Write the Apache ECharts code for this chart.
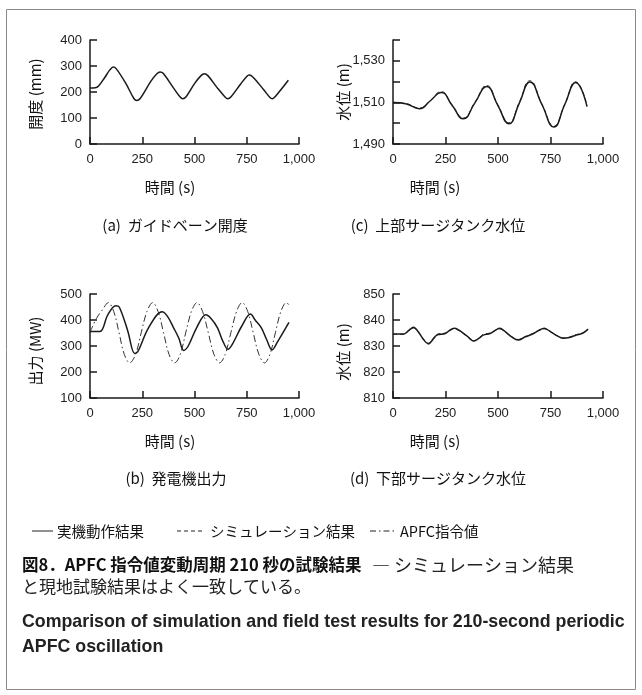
<!DOCTYPE html>
<html>
<head>
<meta charset="utf-8">
<script src="https://cdn.jsdelivr.net/npm/echarts@6/dist/echarts.min.js"></script>
<style>
  html, body { margin: 0; padding: 0; background: #fff; }
  #chart { width: 642px; height: 695px; }
</style>
</head>
<body>
<div id="chart"></div>
<script>
// (a) ガイドベーン開度 - 実機
const gvTime = [0, 25, 40, 70, 95, 111, 125, 170, 210, 223, 240, 290, 320, 335, 350, 400, 430, 443, 460, 500, 530, 547, 565, 610, 645, 659, 675, 720, 750, 762, 780, 830, 860, 872, 890, 949]
const gvActual = [215, 216, 222, 255, 285, 296, 290, 235, 175, 167, 175, 240, 270, 277, 272, 215, 182, 174, 182, 232, 262, 270, 262, 215, 182, 174, 182, 230, 260, 265, 257, 210, 180, 174, 186, 245]

// (b) 発電機出力 - 実機 / APFC指令値
const pwTime = [0, 48, 85, 123, 140, 180, 214, 230, 280, 345, 370, 400, 425, 448, 470, 510, 554, 580, 610, 635, 660, 680, 725, 768, 790, 820, 845, 871, 900, 952]
const pwActual = [356, 356, 420, 455, 450, 360, 271, 280, 370, 432, 415, 370, 330, 283, 300, 370, 420, 405, 370, 320, 287, 305, 375, 423, 400, 370, 325, 285, 320, 391]
const apfcTime = [0, 30, 60, 88, 114, 139, 164, 190, 218, 245, 272, 300, 326, 352, 378, 405, 432, 458, 485, 512, 539, 566, 593, 620, 647, 674, 701, 728, 755, 781, 808, 835, 861, 887, 913, 940, 952]
const apfcValue = [352, 405, 440, 467, 432, 351, 268, 235, 268, 351, 432, 467, 432, 351, 268, 235, 268, 351, 432, 467, 432, 351, 268, 235, 268, 351, 432, 467, 432, 351, 268, 235, 268, 351, 432, 467, 458]

// (c) 上部サージタンク水位 - 実機 / シミュレーション
const upTime = [0, 60, 126, 178, 229, 282, 335, 390, 446, 499, 552, 602, 652, 709, 766, 818, 870, 924]
const upActual = [1510, 1509.4, 1507, 1510.8, 1514.8, 1508.5, 1502.1, 1509.8, 1517.6, 1508.6, 1499.7, 1509.8, 1519.8, 1509, 1498.2, 1509, 1519.6, 1508]
const upSim = [1510, 1509.5, 1507.3, 1511, 1515.2, 1508.7, 1502.5, 1510.1, 1518.1, 1508.9, 1500.2, 1510.2, 1520.4, 1509.3, 1498.7, 1509.2, 1519.9, 1508.3]

// (d) 下部サージタンク水位 - 実機 / シミュレーション
const lowTime = [0, 50, 75, 98, 120, 145, 169, 190, 209, 249, 270, 291, 310, 350, 386, 410, 430, 462, 490, 509, 530, 565, 596, 630, 665, 695, 720, 745, 780, 810, 840, 873, 905, 929]
const lowActual = [834.6, 834.6, 836, 837.2, 835.5, 832.5, 830.8, 832.5, 834.2, 834.8, 836, 836.8, 836.3, 834, 831.9, 833, 834.2, 834.8, 836.2, 836.8, 835.8, 833.5, 832.3, 833.5, 834.6, 836, 836.8, 835.8, 834, 833, 833.3, 834.2, 835, 836.5]
const lowSim = [834.5, 834.5, 835.8, 836.9, 835.4, 832.7, 831.1, 832.8, 834.5, 835, 836.2, 836.6, 836.1, 834.1, 832.1, 833.2, 834.5, 835, 836.1, 836.6, 835.6, 833.6, 832.5, 833.7, 834.8, 836.1, 836.6, 835.6, 834, 833.1, 833.4, 834.4, 835.1, 836.4]

const xTicks = { min: 0, max: 1000, step: 250 }

function zip(ts, vs) {
  return ts.map((t, i) => [t, vs[i]])
}

const INK = '#1a1a1a'
const NUM_FONT = '"Liberation Sans", "Noto Sans CJK JP", sans-serif'
const JP_FONT = '"Noto Sans CJK JP", "Liberation Sans", sans-serif'

const grids = [
  { left: 90, top: 40, width: 209, height: 104 },   // a
  { left: 90, top: 294, width: 209, height: 104 },  // b
  { left: 393, top: 40, width: 210, height: 104 },  // c
  { left: 393, top: 294, width: 210, height: 104 }  // d
]

function makeX(i) {
  return {
    gridIndex: i,
    type: 'value',
    min: xTicks.min,
    max: xTicks.max,
    interval: xTicks.step,
    axisLine: { lineStyle: { color: INK, width: 1.5 } },
    axisTick: { inside: true, length: 7, lineStyle: { color: INK, width: 1.5 } },
    axisLabel: {
      color: '#222', fontSize: 13, fontFamily: NUM_FONT, margin: 9,
      formatter: v => Number(v).toLocaleString('en-US')
    },
    splitLine: { show: false }
  }
}

function makeY(i, min, max, step, onlyEvery) {
  return {
    gridIndex: i,
    type: 'value',
    min: min,
    max: max,
    interval: step,
    axisLine: { show: true, lineStyle: { color: INK, width: 1.5 } },
    axisTick: { show: true, inside: true, length: 7, lineStyle: { color: INK, width: 1.5 } },
    axisLabel: {
      color: '#222', fontSize: 13, fontFamily: NUM_FONT, margin: 8,
      formatter: v => {
        if (onlyEvery && ((v - min) / step) % onlyEvery !== 0) return ''
        return Number(v).toLocaleString('en-US')
      }
    },
    splitLine: { show: false }
  }
}

const solid = { color: INK, width: 1.5, type: 'solid' }
const dashed = { color: '#333', width: 1, type: [4, 3] }
const dashDot = { color: '#333', width: 1, type: [7, 3, 1.5, 3] }

function line(name, xi, data, style, smooth) {
  return {
    name: name,
    type: 'line',
    xAxisIndex: xi,
    yAxisIndex: xi,
    data: data,
    smooth: smooth,
    showSymbol: false,
    lineStyle: style,
    silent: true,
    z: style.type === 'solid' ? 3 : 2
  }
}

function txt(x, y, text, font, opts) {
  opts = opts || {}
  return {
    type: 'text',
    x: x, y: y,
    rotation: opts.rotation || 0,
    style: {
      text: text,
      font: font,
      fill: opts.fill || '#111',
      textAlign: opts.align || 'center',
      align: opts.align || 'center',
      textVerticalAlign: 'middle',
      verticalAlign: 'middle'
    }
  }
}

function seg(x1, x2, y, dash) {
  return {
    type: 'line',
    shape: { x1: x1, y1: y, x2: x2, y2: y },
    style: { stroke: '#222', lineWidth: 1, lineDash: dash || null }
  }
}

let chart = echarts.init(document.getElementById('chart'), null, { renderer: 'canvas' })

chart.setOption({
  animation: false,
  backgroundColor: '#fff',
  grid: grids,
  xAxis: [makeX(0), makeX(1), makeX(2), makeX(3)],
  yAxis: [
    makeY(0, 0, 400, 100),
    makeY(1, 100, 500, 100),
    makeY(2, 1490, 1540, 10, 2),
    makeY(3, 810, 850, 10)
  ],
  series: [
    line('実機動作結果', 0, zip(gvTime, gvActual), solid, 0.35),
    line('APFC指令値', 1, zip(apfcTime, apfcValue), dashDot, 0.35),
    line('実機動作結果', 1, zip(pwTime, pwActual), solid, 0.35),
    line('シミュレーション結果', 2, zip(upTime, upSim), dashed, 0.5),
    line('実機動作結果', 2, zip(upTime, upActual), solid, 0.5),
    line('シミュレーション結果', 3, zip(lowTime, lowSim), dashed, 0.35),
    line('実機動作結果', 3, zip(lowTime, lowActual), solid, 0.35)
  ],
  graphic: [
    // 外枠
    {
      type: 'rect',
      shape: { x: 6.5, y: 9.5, width: 629, height: 680 },
      style: { fill: 'none', stroke: '#8a8a8a', lineWidth: 1 },
      z: 0
    },
    // 軸名
    txt(35, 94, '開度 (mm)', '15px ' + JP_FONT, { rotation: Math.PI / 2 }),
    txt(343, 92, '水位 (m)', '15px ' + JP_FONT, { rotation: Math.PI / 2 }),
    txt(35, 351, '出力 (MW)', '15px ' + JP_FONT, { rotation: Math.PI / 2 }),
    txt(343, 352, '水位 (m)', '15px ' + JP_FONT, { rotation: Math.PI / 2 }),
    txt(170, 187, '時間 (s)', '15px ' + JP_FONT),
    txt(435, 187, '時間 (s)', '15px ' + JP_FONT),
    txt(170, 441, '時間 (s)', '15px ' + JP_FONT),
    txt(435, 441, '時間 (s)', '15px ' + JP_FONT),
    // 小見出し
    txt(175, 225, '(a)  ガイドベーン開度', '15px ' + JP_FONT),
    txt(438, 225, '(c)  上部サージタンク水位', '15px ' + JP_FONT),
    txt(176, 478, '(b)  発電機出力', '15px ' + JP_FONT),
    txt(438, 478, '(d)  下部サージタンク水位', '15px ' + JP_FONT),
    // 凡例
    seg(32, 53, 531),
    txt(57, 531, '実機動作結果', '14.5px ' + JP_FONT, { align: 'left' }),
    seg(177, 205, 531, [4, 3]),
    txt(210, 531, 'シミュレーション結果', '14.5px ' + JP_FONT, { align: 'left' }),
    seg(370, 395, 531, [6, 3, 1.5, 3]),
    txt(400, 531, 'APFC指令値', '14.5px ' + JP_FONT, { align: 'left' }),
    // キャプション
    txt(22, 565, '図8．APFC 指令値変動周期 210 秒の試験結果', 'bold 16.5px ' + JP_FONT, { align: 'left' }),
    txt(372, 565, '― シミュレーション結果', '18px ' + JP_FONT, { align: 'left', fill: '#222' }),
    txt(22, 587, 'と現地試験結果はよく一致している。', '17px ' + JP_FONT, { align: 'left', fill: '#222' }),
    txt(22, 622, 'Comparison of simulation and field test results for 210-second periodic', 'bold 17.8px ' + NUM_FONT, { align: 'left', fill: '#222' }),
    txt(22, 647, 'APFC oscillation', 'bold 17.8px ' + NUM_FONT, { align: 'left', fill: '#222' })
  ]
})
</script>
</body>
</html>
